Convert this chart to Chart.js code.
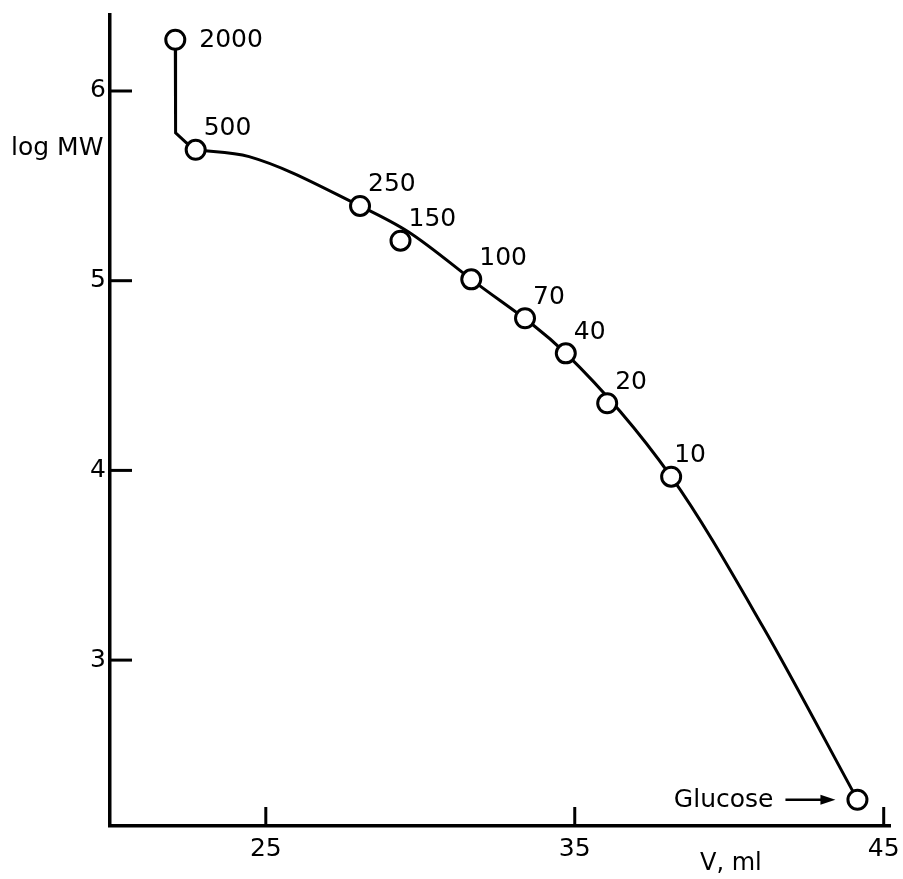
<!DOCTYPE html>
<html>
<head>
<meta charset="utf-8">
<script src="https://cdn.jsdelivr.net/npm/chart.js@4"></script>
<style>
  body { margin: 0; background: #fff; }
  #wrap { width: 903px; height: 879px; }
</style>
</head>
<body>
<div id="wrap"><canvas id="chart" width="903" height="879"></canvas></div>
<script>
// Calibration points: elution volume (ml) vs log MW
const sizeLabels = ["2000", "500", "250", "150", "100", "70", "40", "20", "10", "Glucose"];
const volumes = [22.07, 22.73, 28.05, 29.36, 31.65, 33.39, 34.71, 36.05, 38.12, 44.15];
const logMW = [6.27, 5.69, 5.394, 5.211, 5.007, 4.802, 4.617, 4.354, 3.967, 2.264];

// Hand-drawn line: vertical stem from 2000 down to 500
const stemX = [22.07, 22.08, 22.43, 22.73];
const stemY = [6.27, 5.78, 5.727, 5.69];

// Smooth curve, from 500 to glucose (passes above 150)
const curveX = [22.73, 24.46, 28.05, 29.61, 31.65, 34.71, 38.12, 41.09, 44.15];
const curveY = [5.69, 5.654, 5.394, 5.258, 5.007, 4.617, 3.967, 3.176, 2.264];

const xTicks = [25, 35, 45];
const yTicks = [3, 4, 5, 6];

const FONT = "DejaVu Sans";

function pts(xs, ys) {
  return xs.map((x, i) => ({ x: x, y: ys[i] }));
}

// Draw ticks pointing inwards, and the text labels
const decorations = {
  id: "decorations",
  afterDraw(chart) {
    const ctx = chart.ctx;
    const xs = chart.scales.x;
    const ys = chart.scales.y;
    const area = chart.chartArea;
    ctx.save();
    ctx.strokeStyle = "#000";
    ctx.lineWidth = 3;
    xTicks.forEach(v => {
      const px = xs.getPixelForValue(v);
      ctx.beginPath();
      ctx.moveTo(px, area.bottom);
      ctx.lineTo(px, area.bottom - 19);
      ctx.stroke();
    });
    yTicks.forEach(v => {
      const py = ys.getPixelForValue(v);
      ctx.beginPath();
      ctx.moveTo(area.left, py);
      ctx.lineTo(area.left + 22, py);
      ctx.stroke();
    });

    // point labels
    ctx.fillStyle = "#000";
    ctx.font = "25px '" + FONT + "'";
    ctx.textBaseline = "middle";
    const meta = chart.getDatasetMeta(0);
    meta.data.forEach((el, i) => {
      const label = sizeLabels[i];
      if (label === "2000") {
        ctx.textAlign = "left";
        ctx.fillText(label, el.x + 24, el.y + 1);
      } else if (label === "Glucose") {
        ctx.textAlign = "right";
        ctx.fillText(label, el.x - 84, el.y + 1);
        ctx.lineWidth = 2.5;
        ctx.beginPath();
        ctx.moveTo(el.x - 72, el.y);
        ctx.lineTo(el.x - 34, el.y);
        ctx.stroke();
        ctx.beginPath();
        ctx.moveTo(el.x - 22, el.y);
        ctx.lineTo(el.x - 37, el.y - 5);
        ctx.lineTo(el.x - 37, el.y + 5);
        ctx.closePath();
        ctx.fill();
      } else {
        ctx.textAlign = "left";
        const dx = label === "10" ? 3 : 8;
        ctx.fillText(label, el.x + dx, el.y - 21);
      }
    });

    // axis titles
    ctx.textAlign = "left";
    ctx.fillText("log MW", 11, 148);
    ctx.font = "24px '" + FONT + "'";
    ctx.fillText("V, ml", 700, 864);
    ctx.restore();
  }
};

new Chart(document.getElementById("chart"), {
  type: "scatter",
  data: {
    datasets: [
      {
        data: pts(volumes, logMW),
        showLine: false,
        pointRadius: 9.5,
        pointBorderWidth: 3,
        pointBackgroundColor: "#fff",
        pointBorderColor: "#000"
      },
      {
        data: pts(stemX, stemY),
        showLine: true,
        tension: 0,
        pointRadius: 0,
        borderColor: "#000",
        borderWidth: 3
      },
      {
        data: pts(curveX, curveY),
        showLine: true,
        cubicInterpolationMode: "monotone",
        pointRadius: 0,
        borderColor: "#000",
        borderWidth: 3
      }
    ]
  },
  options: {
    responsive: false,
    animation: false,
    layout: { padding: { left: 0, right: 8, top: 15, bottom: 0 } },
    plugins: { legend: { display: false }, tooltip: { enabled: false } },
    scales: {
      x: {
        type: "linear",
        min: 19.957,
        max: 45.22,
        grid: { display: false, drawTicks: false },
        border: { display: true, color: "#000", width: 3.5 },
        afterBuildTicks: s => { s.ticks = xTicks.map(v => ({ value: v })); },
        afterFit: s => { s.height = 53; s.paddingLeft = 0; s.paddingRight = 0; },
        ticks: { color: "#000", padding: 8, font: { family: FONT, size: 25 } }
      },
      y: {
        type: "linear",
        min: 2.1255,
        max: 6.4006,
        grid: { display: false, drawTicks: false },
        border: { display: true, color: "#000", width: 3.5 },
        afterBuildTicks: s => { s.ticks = yTicks.map(v => ({ value: v })); },
        afterFit: s => { s.width = 110; s.paddingTop = 0; s.paddingBottom = 0; },
        ticks: { color: "#000", padding: 4, font: { family: FONT, size: 25 } }
      }
    }
  },
  plugins: [decorations]
});
</script>
</body>
</html>
